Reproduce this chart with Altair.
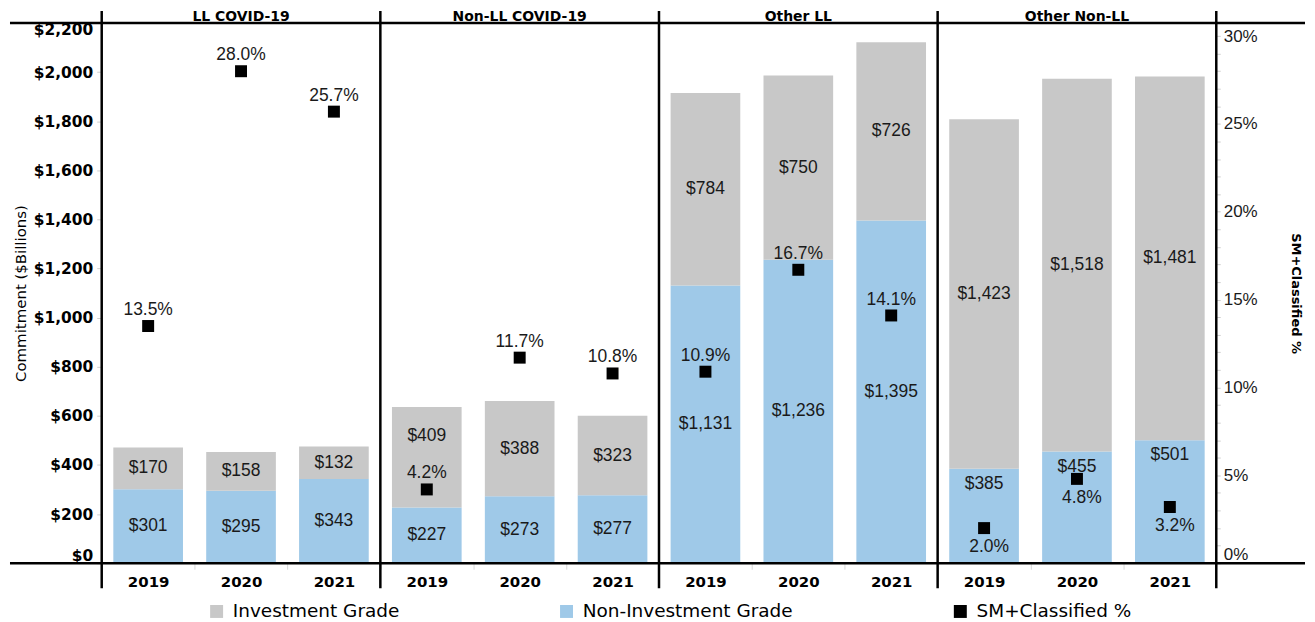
import altair as alt
import pandas as pd

# ---------------- data ----------------
panels = ["LL COVID-19", "Non-LL COVID-19", "Other LL", "Other Non-LL"]
years = ["2019", "2020", "2021"]
non_inv = [301, 295, 343, 227, 273, 277, 1131, 1236, 1395, 385, 455, 501]
inv = [170, 158, 132, 409, 388, 323, 784, 750, 726, 1423, 1518, 1481]
sm_pct = [13.5, 28.0, 25.7, 4.2, 11.7, 10.8, 10.9, 16.7, 14.1, 2.0, 4.8, 3.2]

IG = "Investment Grade"
NIG = "Non-Investment Grade"
SM = "SM+Classified %"

keys = [f"{p}|{y}" for p in panels for y in years]

rows = []
for i, k in enumerate(keys):
    p, y = k.split("|")
    rows.append(dict(key=k, panel=p, year=y, grade=NIG, value=non_inv[i], ord=0))
    rows.append(dict(key=k, panel=p, year=y, grade=IG, value=inv[i], ord=1))
bars_df = pd.DataFrame(rows)
pct_df = pd.DataFrame(dict(key=keys,
                           panel=[k.split("|")[0] for k in keys],
                           year=[k.split("|")[1] for k in keys],
                           pct=sm_pct))
first_df = pd.DataFrame(dict(key=[f"{p}|{years[0]}" for p in panels]))
last_df = pd.DataFrame(dict(key=[keys[-1]]))
title_df = pd.DataFrame(dict(key=[f"{p}|{years[1]}" for p in panels], panel=panels))
one_df = pd.DataFrame(dict(k=[0]))

W, H = 1118, 542
GRAY = "#c8c8c8"
BLUE = "#9fc9e8"
TXT = "#1a1a1a"

xscale = alt.Scale(domain=keys, paddingInner=0, paddingOuter=0)
x_axis = alt.Axis(title=None, labelAngle=0, domain=False, ticks=True, tickBand="extent",
                  tickColor="#d9d9d9", tickSize=6, labelPadding=5,
                  labelExpr="split(datum.label, '|')[1]",
                  labelFont="DejaVu Sans", labelFontWeight="bold", labelFontSize=15,
                  labelColor="black")


def xenc(bp=None):
    if bp is None:
        return alt.X("key:N", scale=xscale, axis=x_axis)
    return alt.X("key:N", scale=xscale, axis=x_axis, bandPosition=bp)


yL = alt.Scale(domain=[0, 2200], nice=False)
yL_axis = alt.Axis(title="Commitment ($Billions)", values=list(range(0, 2201, 200)),
                   format="$,d", labelFlush=True, domain=False, grid=False,
                   tickColor="#d0d0d0", tickSize=5, labelPadding=4,
                   labelFont="DejaVu Sans", labelFontWeight="bold", labelFontSize=15.5,
                   labelColor="black", labelOverlap=False,
                   titleFont="DejaVu Sans", titleFontSize=15, titleFontWeight="normal",
                   titleColor="black", titlePadding=5)

yR = alt.Scale(domain=[0, 30.75], nice=False)
yR_axis = alt.Axis(title=SM, orient="right", values=list(range(0, 31)),
                   labelExpr="datum.value % 5 == 0 ? datum.value + '%' : ''",
                   labelFlush=True, labelOverlap=False, domain=False, grid=False,
                   tickColor="#d0d0d0", tickSize=4, labelPadding=3,
                   labelFont="Liberation Sans", labelFontSize=17, labelColor=TXT,
                   titleFont="DejaVu Sans", titleFontSize=13, titleFontWeight="bold",
                   titleColor="black", titlePadding=31)

color = alt.Color("grade:N",
                  scale=alt.Scale(domain=[IG, NIG, SM], range=[GRAY, BLUE, "black"]),
                  legend=alt.Legend(title=None, orient="none", legendX=106, legendY=581,
                                    direction="horizontal", symbolType="square",
                                    symbolSize=169, symbolStrokeWidth=0, symbolOpacity=1,
                                    labelFont="DejaVu Sans", labelFontSize=18.5,
                                    labelColor="black", labelOffset=7, columnPadding=158,
                                    labelLimit=400, padding=0))

bars = alt.Chart(bars_df).mark_bar(width={"band": 0.75}, opacity=1).encode(
    x=xenc(),
    y=alt.Y("value:Q", stack="zero", scale=yL, axis=yL_axis),
    color=color,
    order=alt.Order("ord:Q"),
)

bar_text = alt.Chart(bars_df).transform_stack(
    stack="value", groupby=["key"], as_=["v0", "v1"],
    sort=[alt.SortField("ord", order="ascending")],
).transform_calculate(
    ly="datum.panel == 'Other Non-LL' && datum.grade == 'Non-Investment Grade' ? datum.v1 - 62 : "
       "(datum.panel == 'Non-LL COVID-19' && datum.year == '2019' && datum.grade == 'Investment Grade' "
       "? (datum.v0 + datum.v1) / 2 + 85 : (datum.v0 + datum.v1) / 2)"
).mark_text(font="Liberation Sans", fontSize=17.5, color=TXT, baseline="middle").encode(
    x=xenc(),
    y=alt.Y("ly:Q", scale=yL, axis=yL_axis),
    text=alt.Text("value:Q", format="$,d"),
)

sep_first = alt.Chart(first_df).mark_rule(color="black", strokeWidth=2.5).encode(
    x=xenc(0), y=alt.value(-12), y2=alt.value(H + 25),
)
sep_last = alt.Chart(last_df).mark_rule(color="black", strokeWidth=2.5).encode(
    x=xenc(1), y=alt.value(-12), y2=alt.value(H + 25),
)
h_top = alt.Chart(one_df).mark_rule(color="black", strokeWidth=2.5).encode(
    x=alt.value(-92), x2=alt.value(W + 89), y=alt.value(0),
)
h_bot = alt.Chart(one_df).mark_rule(color="black", strokeWidth=2.5).encode(
    x=alt.value(-92), x2=alt.value(W + 89), y=alt.value(H),
)
titles = alt.Chart(title_df).mark_text(font="DejaVu Sans", fontWeight="bold", fontSize=14,
                                       color="black", baseline="middle").encode(
    x=xenc(), y=alt.value(-6), text="panel:N",
)

left = alt.layer(bars, bar_text, titles, sep_first, sep_last, h_top, h_bot)

pct_base = alt.Chart(pct_df).transform_calculate(lab="format(datum.pct, '.1f') + '%'")
squares = pct_base.mark_point(shape="square", filled=True, size=144, color="black",
                              opacity=1).encode(
    x=xenc(), y=alt.Y("pct:Q", scale=yR, axis=yR_axis),
)
pct_above = pct_base.transform_filter("datum.panel != 'Other Non-LL'").mark_text(
    font="Liberation Sans", fontSize=17.5, color=TXT, baseline="middle", dy=-16).encode(
    x=xenc(), y=alt.Y("pct:Q", scale=yR, axis=yR_axis), text="lab:N",
)
pct_below = pct_base.transform_filter("datum.panel == 'Other Non-LL'").mark_text(
    font="Liberation Sans", fontSize=17.5, color=TXT, baseline="middle", dy=19, dx=5).encode(
    x=xenc(), y=alt.Y("pct:Q", scale=yR, axis=yR_axis), text="lab:N",
)
right = alt.layer(squares, pct_above, pct_below)

chart = alt.layer(left, right).resolve_scale(y="independent").properties(
    width=W, height=H, padding=0,
).configure_view(stroke=None)

chart.save("out.html", embed_options={"renderer": "svg", "actions": False})
